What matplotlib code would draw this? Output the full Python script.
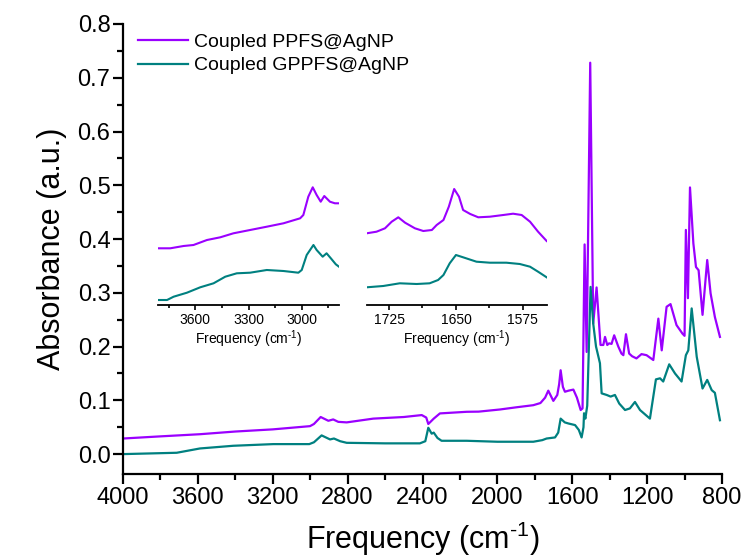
import matplotlib
matplotlib.use("Agg")
import matplotlib.pyplot as plt
from matplotlib.ticker import MultipleLocator, FormatStrFormatter

plt.rcParams['font.family'] = ['Liberation Sans', 'DejaVu Sans']
plt.rcParams['mathtext.fontset'] = 'custom'
plt.rcParams['mathtext.rm'] = 'Liberation Sans'
plt.rcParams['mathtext.it'] = 'Liberation Sans'
plt.rcParams['mathtext.default'] = 'rm'

# ---------------- main spectra ----------------
labels = ["Coupled PPFS@AgNP", "Coupled GPPFS@AgNP"]
colors = ["#9A00FF", "#008080"]

freq_ppfs = [4000, 3800, 3589, 3400, 3200, 3001, 2980, 2944, 2903, 2877, 2850, 2805,
             2663, 2500, 2404, 2380, 2369, 2340, 2307, 2164, 2100, 1986, 1900, 1808,
             1770, 1745, 1728, 1701, 1680, 1670, 1662, 1650, 1639, 1620, 1594, 1575,
             1555, 1545, 1534, 1523, 1504, 1488, 1470, 1449, 1434, 1425, 1413, 1403,
             1390, 1376, 1354, 1337, 1327, 1313, 1296, 1280, 1257, 1230, 1203, 1167,
             1140, 1122, 1096, 1075, 1043, 1011, 1000, 993, 982, 971, 953, 939, 925,
             904, 879, 861, 838, 811]
abs_ppfs = [0.029, 0.033, 0.037, 0.042, 0.046, 0.052, 0.056, 0.069, 0.062, 0.0645, 0.060, 0.059,
            0.066, 0.069, 0.0726, 0.068, 0.056, 0.066, 0.0757, 0.0787, 0.079, 0.083, 0.087, 0.091,
            0.095, 0.105, 0.118, 0.099, 0.110, 0.130, 0.156, 0.125, 0.116, 0.118, 0.120, 0.105,
            0.082, 0.085, 0.390, 0.190, 0.728, 0.243, 0.310, 0.203, 0.203, 0.218, 0.203, 0.206,
            0.205, 0.221, 0.200, 0.187, 0.184, 0.223, 0.187, 0.182, 0.178, 0.186, 0.184, 0.175,
            0.252, 0.193, 0.274, 0.279, 0.240, 0.224, 0.220, 0.417, 0.290, 0.496, 0.392, 0.348, 0.342,
            0.259, 0.361, 0.299, 0.255, 0.218]

freq_gppfs = [4000, 3713, 3589, 3411, 3197, 3005, 2980, 2939, 2894, 2873, 2840, 2805,
              2600, 2414, 2385, 2369, 2351, 2340, 2320, 2298, 2164, 2000, 1808, 1760,
              1737, 1692, 1675, 1662, 1640, 1621, 1585, 1565, 1550, 1540, 1537, 1530,
              1520, 1502, 1488, 1473, 1452, 1443, 1416, 1395, 1372, 1349, 1318, 1292,
              1265, 1238, 1185, 1153, 1131, 1114, 1082, 1051, 1016, 993, 980, 962, 935,
              904, 879, 855, 838, 811]
abs_gppfs = [0.000, 0.0025, 0.0105, 0.0155, 0.0186, 0.0186, 0.022, 0.0348, 0.0273, 0.029, 0.024, 0.021,
             0.020, 0.020, 0.024, 0.049, 0.038, 0.040, 0.030, 0.0248, 0.0248, 0.023, 0.023, 0.026,
             0.029, 0.031, 0.040, 0.066, 0.059, 0.057, 0.054, 0.045, 0.031, 0.050, 0.076, 0.066,
             0.090, 0.311, 0.243, 0.200, 0.169, 0.113, 0.110, 0.107, 0.110, 0.094, 0.082, 0.085,
             0.097, 0.082, 0.066, 0.139, 0.141, 0.135, 0.167, 0.150, 0.135, 0.184, 0.193, 0.271, 0.181,
             0.122, 0.138, 0.119, 0.114, 0.063]

# ---------------- inset 1 (C-H region), relative absorbance ----------------
in1_freq_p = [3806, 3741, 3666, 3610, 3534, 3459, 3385, 3291, 3197, 3103, 3009, 2991,
              2963, 2938, 2916, 2893, 2873, 2841, 2813, 2790]
in1_val_p = [0.617, 0.617, 0.640, 0.650, 0.700, 0.727, 0.767, 0.800, 0.833, 0.867, 0.917, 0.950,
             1.133, 1.227, 1.150, 1.083, 1.140, 1.083, 1.067, 1.067]
in1_freq_g = [3806, 3759, 3722, 3647, 3572, 3497, 3431, 3366, 3291, 3197, 3103, 3019, 3000,
              2972, 2934, 2916, 2882, 2860, 2836, 2808, 2790]
in1_val_g = [0.100, 0.100, 0.133, 0.173, 0.227, 0.267, 0.333, 0.367, 0.373, 0.400, 0.390, 0.373, 0.400,
             0.550, 0.650, 0.600, 0.533, 0.567, 0.517, 0.457, 0.433]

# ---------------- inset 2 (C=O / amide region), relative absorbance ----------------
in2_freq_p = [1750, 1739, 1729.5, 1722, 1714.6, 1707, 1696, 1686.6, 1677, 1671.6, 1664, 1658,
              1652, 1646.6, 1642, 1634, 1625, 1612, 1597, 1586, 1576.4, 1567, 1558, 1548.4]
in2_val_p = [0.767, 0.783, 0.817, 0.883, 0.927, 0.873, 0.817, 0.790, 0.800, 0.850, 0.900, 1.033,
             1.210, 1.133, 1.000, 0.960, 0.927, 0.933, 0.950, 0.963, 0.950, 0.883, 0.783, 0.690]
in2_freq_g = [1750, 1731.5, 1713, 1694, 1679.5, 1670, 1664, 1657, 1650, 1642, 1627, 1612,
              1593.5, 1578.5, 1567, 1558, 1548.4]
in2_val_g = [0.227, 0.240, 0.267, 0.260, 0.267, 0.300, 0.350, 0.467, 0.550, 0.527, 0.483, 0.473,
             0.473, 0.460, 0.433, 0.383, 0.327]

XLABEL = "Frequency (cm$^{\u2010 1}$)"

W, H = 743, 560
fig = plt.figure(figsize=(W / 100, H / 100), dpi=100)
ax = fig.add_axes([123 / W, 1 - 474 / H, (722 - 123) / W, (474 - 24) / H])

ax.plot(freq_ppfs, abs_ppfs, color=colors[0], lw=1.6, label=labels[0])
ax.plot(freq_gppfs, abs_gppfs, color=colors[1], lw=1.6, label=labels[1])

ax.set_xlim(4000, 800)
ax.set_ylim(-0.037, 0.8)
ax.xaxis.set_major_locator(MultipleLocator(400))
ax.xaxis.set_minor_locator(MultipleLocator(200))
ax.yaxis.set_major_locator(MultipleLocator(0.1))
ax.yaxis.set_minor_locator(MultipleLocator(0.05))
ax.yaxis.set_major_formatter(FormatStrFormatter('%.1f'))
for s in ['top', 'right']:
    ax.spines[s].set_visible(False)
for s in ['left', 'bottom']:
    ax.spines[s].set_linewidth(1.6)
ax.tick_params(which='major', direction='out', length=7, width=1.6, labelsize=17, pad=2)
ax.tick_params(which='minor', direction='out', length=4, width=1.6)
ax.set_xlabel(XLABEL, fontsize=22, labelpad=8)
ax.set_ylabel("Absorbance (a.u.)", fontsize=22, labelpad=8)

leg = ax.legend(loc='upper left', bbox_to_anchor=(0.005, 1.005), frameon=False, fontsize=14,
                handlelength=2.6, handletextpad=0.3, labelspacing=0.3, borderaxespad=0.2)

def make_inset(rect, fp, vp, fg, vg, xlim, major, minor):
    ia = fig.add_axes(rect)
    ia.plot(fp, vp, color=colors[0], lw=1.5)
    ia.plot(fg, vg, color=colors[1], lw=1.5)
    ia.set_xlim(*xlim)
    ia.set_ylim(0.05, 1.30)
    ia.patch.set_alpha(0)
    for s in ['top', 'right', 'left']:
        ia.spines[s].set_visible(False)
    ia.spines['bottom'].set_linewidth(1.3)
    ia.set_yticks([])
    ia.xaxis.set_major_locator(MultipleLocator(major))
    ia.xaxis.set_minor_locator(MultipleLocator(minor))
    ia.tick_params(which='major', direction='out', length=3.5, width=1.2, labelsize=10, pad=2)
    ia.tick_params(which='minor', direction='out', length=2.5, width=1.2)
    ia.set_xlabel(XLABEL, fontsize=10, labelpad=1)
    return ia

make_inset([158 / W, 1 - 305 / H, 181 / W, 125 / H], in1_freq_p, in1_val_p, in1_freq_g, in1_val_g,
           (3810, 2790), 300, 150)
make_inset([366.7 / W, 1 - 305 / H, 180.3 / W, 125 / H], in2_freq_p, in2_val_p, in2_freq_g, in2_val_g,
           (1750, 1548), 75, 37.5)

fig.savefig("out.png", dpi=100)
